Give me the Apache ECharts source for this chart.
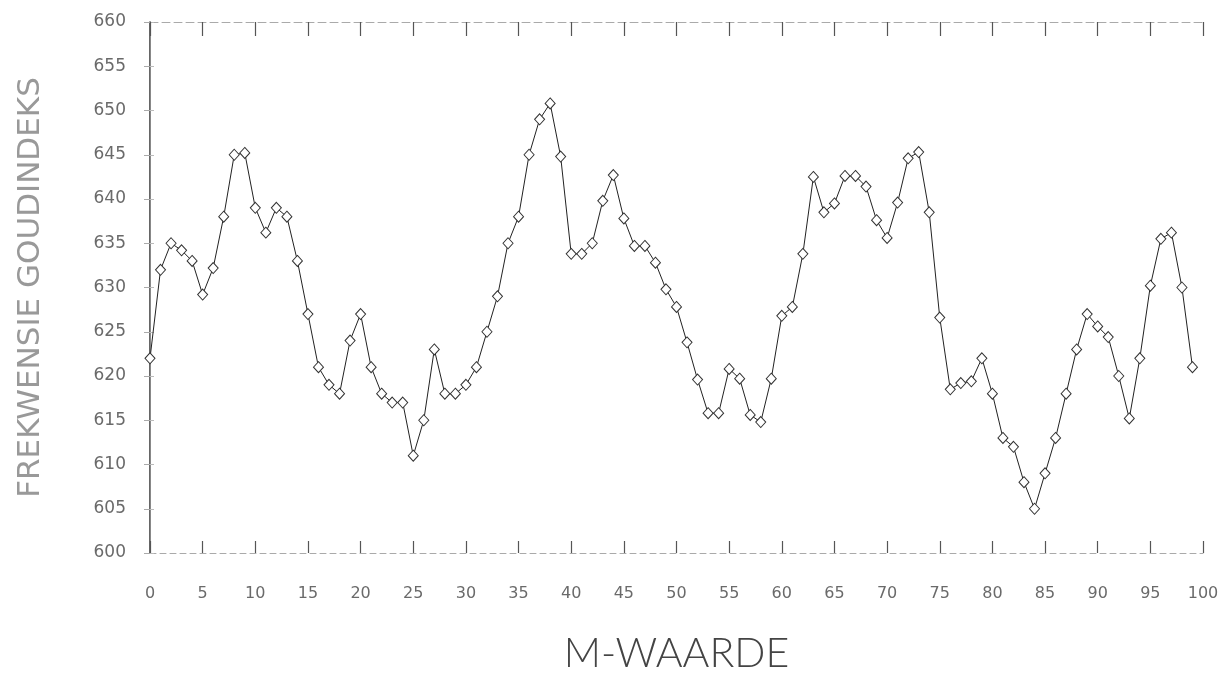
<!DOCTYPE html>
<html>
<head>
<meta charset="utf-8">
<script src="https://cdn.jsdelivr.net/npm/echarts@6/dist/echarts.min.js"></script>
<style>html,body{margin:0;padding:0;background:#fff}#c{width:1228px;height:675px}</style>
</head>
<body>
<div id="c"></div>
<script>
const mValues = [0,1,2,3,4,5,6,7,8,9,10,11,12,13,14,15,16,17,18,19,20,21,22,23,24,25,26,27,28,29,30,31,32,33,34,35,36,37,38,39,40,41,42,43,44,45,46,47,48,49,50,51,52,53,54,55,56,57,58,59,60,61,62,63,64,65,66,67,68,69,70,71,72,73,74,75,76,77,78,79,80,81,82,83,84,85,86,87,88,89,90,91,92,93,94,95,96,97,98,99];
const goldIndex = [
  622, 632, 635, 634.2, 633, 629.2, 632.2, 638, 645, 645.2,
  639, 636.2, 639, 638, 633, 627, 621, 619, 618, 624,
  627, 621, 618, 617, 617, 611, 615, 623, 618, 618,
  619, 621, 625, 629, 635, 638, 645, 649, 650.8, 644.8,
  633.8, 633.8, 635, 639.8, 642.7, 637.8, 634.7, 634.7, 632.8, 629.8,
  627.8, 623.8, 619.6, 615.8, 615.8, 620.8, 619.7, 615.6, 614.8, 619.7,
  626.8, 627.8, 633.8, 642.5, 638.5, 639.5, 642.6, 642.6, 641.4, 637.6,
  635.6, 639.6, 644.6, 645.3, 638.5, 626.6, 618.5, 619.2, 619.4, 622,
  618, 613, 612, 608, 605, 609, 613, 618, 623, 627,
  625.6, 624.4, 620, 615.2, 622, 630.2, 635.5, 636.2, 630, 621
];
const xTicks = { min: 0, max: 100, step: 5 };
const yTicks = { min: 600, max: 660, step: 5 };
const xTitle = 'M-WAARDE';
const yTitle = 'FREKWENSIE GOUDINDEKS';

const chart = echarts.init(document.getElementById('c'), null, { renderer: 'canvas' });
const labelFont = { color: '#6a6a6a', fontFamily: 'DejaVu Sans', fontSize: 15 };
chart.setOption({
  animation: false,
  backgroundColor: '#fff',
  grid: { left: 150, right: 25, top: 22, bottom: 122, containLabel: false, outerBoundsMode: 'none' },
  xAxis: [{
    type: 'value', min: xTicks.min, max: xTicks.max, interval: xTicks.step,
    position: 'bottom',
    name: xTitle, nameLocation: 'middle', nameGap: 80,
    nameTextStyle: { color: '#444', fontFamily: 'Lato', fontWeight: 300, fontSize: 41 },
    axisLine: { show: true, lineStyle: { color: '#aaa', width: 1, type: [6, 4] } },
    axisTick: { show: true, inside: true, length: 12, lineStyle: { color: '#555', width: 1.2 } },
    axisLabel: Object.assign({ margin: 33 }, labelFont, { fontSize: 16 }),
    splitLine: { show: false }
  }, {
    type: 'value', min: xTicks.min, max: xTicks.max, interval: xTicks.step,
    position: 'top',
    axisLine: { show: true, lineStyle: { color: '#aaa', width: 1, type: [8, 4] } },
    axisTick: { show: true, inside: true, length: 14, lineStyle: { color: '#555', width: 1.2 } },
    axisLabel: { show: false },
    splitLine: { show: false }
  }],
  yAxis: [{
    type: 'value', min: yTicks.min, max: yTicks.max, interval: yTicks.step,
    position: 'left',
    name: yTitle, nameLocation: 'middle', nameGap: 104, nameRotate: 90,
    nameTextStyle: { color: '#999', fontFamily: 'DejaVu Sans', fontSize: 31 },
    axisLine: { show: true, lineStyle: { color: '#333', width: 1.5 } },
    axisTick: { show: true, inside: true, length: 4, lineStyle: { color: '#bbb' } },
    axisLabel: Object.assign({ margin: 24 }, labelFont, { fontSize: 17 }),
    splitLine: { show: false }
  }, {
    type: 'value', min: yTicks.min, max: yTicks.max, interval: yTicks.step,
    position: 'right',
    axisLine: { show: true, lineStyle: { color: '#888', width: 1 } },
    axisTick: { show: true, inside: true, length: 6, lineStyle: { color: '#aaa' } },
    axisLabel: { show: false },
    splitLine: { show: false }
  }],
  series: [{
    type: 'line',
    xAxisIndex: 0, yAxisIndex: 0,
    data: mValues.map((m, i) => [m, goldIndex[i]]),
    symbol: 'diamond',
    symbolSize: [10, 11],
    showAllSymbol: true,
    lineStyle: { color: '#222', width: 1 },
    itemStyle: { color: '#fff', borderColor: '#333', borderWidth: 1 }
  }]
});
</script>
</body>
</html>
